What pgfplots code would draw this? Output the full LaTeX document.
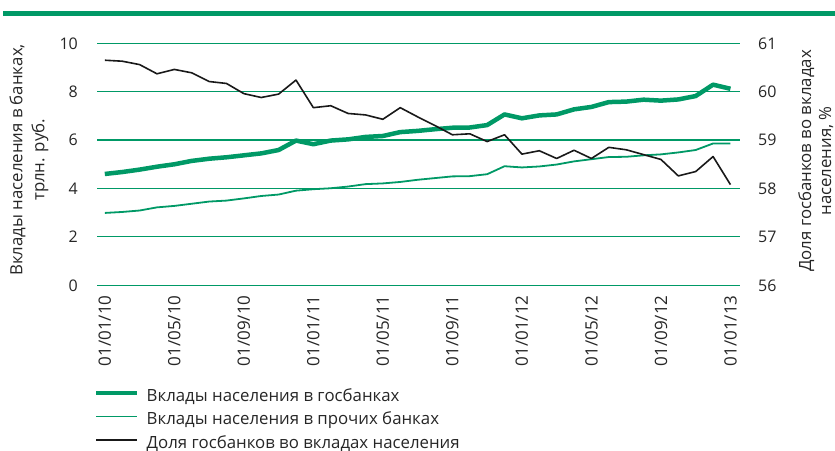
\documentclass[border=0pt]{standalone}
\usepackage{fontspec}
\setmainfont{Open Sans}
\usepackage{pgfplots}
\pgfplotsset{compat=1.18}
\usepackage{pgfplotstable}
\definecolor{sbgreen}{HTML}{009966}
\definecolor{txt}{HTML}{262626}

\pgfplotstableread{
m gov other share
0 4.60 2.99 60.65
1 4.68 3.03 60.63
2 4.78 3.09 60.56
3 4.90 3.22 60.37
4 5.00 3.28 60.46
5 5.14 3.37 60.39
6 5.23 3.46 60.21
7 5.29 3.50 60.17
8 5.37 3.59 59.96
9 5.45 3.69 59.88
10 5.59 3.75 59.95
11 5.98 3.91 60.24
12 5.83 3.97 59.67
13 5.98 4.01 59.71
14 6.03 4.08 59.55
15 6.13 4.18 59.52
16 6.17 4.21 59.43
17 6.33 4.27 59.67
18 6.38 4.36 59.48
19 6.45 4.43 59.30
20 6.51 4.50 59.11
21 6.52 4.51 59.13
22 6.62 4.59 58.97
23 7.06 4.92 59.11
24 6.90 4.87 58.71
25 7.02 4.91 58.78
26 7.06 4.99 58.62
27 7.27 5.12 58.79
28 7.37 5.21 58.62
29 7.57 5.30 58.85
30 7.59 5.31 58.80
31 7.67 5.37 58.70
32 7.63 5.41 58.60
33 7.68 5.49 58.26
34 7.82 5.59 58.35
35 8.29 5.86 58.66
36 8.12 5.86 58.08
}\datatable

\begin{document}
\fontsize{16.8bp}{20bp}\selectfont
\begin{tikzpicture}[x=1bp,y=1bp]
\useasboundingbox (0,0) rectangle (835,451);
\fill[sbgreen] (3,435) rectangle (835,440);
\begin{axis}[
  at={(97bp,165.7bp)}, anchor=south west,
  width=643bp, height=242bp, scale only axis,
  xmin=-0.45, xmax=36.55, ymin=0, ymax=10,
  axis x line*=bottom, axis y line*=left,
  axis line style={draw=none},
  major tick length=0pt,
  ytick={0,2,...,10},
  ymajorgrids, grid style={sbgreen, line width=1.2bp},
  xtick={0,4,...,36},
  xticklabels={01/01/10,01/05/10,01/09/10,01/01/11,01/05/11,01/09/11,01/01/12,01/05/12,01/09/12,01/01/13},
  x tick label style={rotate=90, anchor=east, inner sep=0pt, font=\fontsize{17bp}{20bp}\selectfont, text=txt},
  xticklabel shift=10bp,
  y tick label style={inner sep=0pt, font=\fontsize{16bp}{19bp}\selectfont, text=txt},
  yticklabel shift=19bp,
  /pgf/number format/assume math mode=true,
  ylabel={Вклады населения в банках,\\трлн. руб.},
  ylabel style={at={(axis description cs:-0.1058,0.518)}, anchor=center, align=center, font=\fontsize{16.8bp}{22bp}\selectfont, text=txt},
  clip=false,
]
\addplot[sbgreen, line width=1.8bp, line join=round] table[x=m, y=other] {\datatable};
\addplot[sbgreen, line width=4.5bp, line join=round] table[x=m, y=gov] {\datatable};
\end{axis}
\begin{axis}[
  at={(97bp,165.7bp)}, anchor=south west,
  width=643bp, height=242bp, scale only axis,
  xmin=-0.45, xmax=36.55, ymin=56, ymax=61,
  axis y line*=right, hide x axis,
  axis line style={draw=none},
  major tick length=0pt,
  ytick={56,...,61},
  y tick label style={inner sep=0pt, font=\fontsize{16bp}{19bp}\selectfont, text=txt},
  yticklabel shift=18bp,
  /pgf/number format/assume math mode=true,
  ylabel={Доля госбанков во вкладах\\населения, \%},
  ylabel style={at={(axis description cs:1.118,0.514)}, anchor=center, align=center, rotate=0, font=\fontsize{16.8bp}{20bp}\selectfont, text=txt},
  legend style={at={(axis description cs:0,0)}, anchor=north west, yshift=-105bp, xshift=-3bp, draw=none, fill=none, inner sep=0pt, row sep=9.5bp, font=\fontsize{16.8bp}{20bp}\selectfont, text=txt, nodes={inner sep=0pt, text height=11bp, text depth=3bp}},
  legend cell align=left,
  legend image code/.code={\draw[#1] (0bp,4.5bp) -- (41bp,4.5bp);},
  legend style={/tikz/every odd column/.append style={column sep=7bp}},
  clip=false,
]
\addlegendimage{sbgreen, line width=4.5bp}
\addlegendentry{Вклады населения в госбанках}
\addlegendimage{sbgreen, line width=1.8bp}
\addlegendentry{Вклады населения в прочих банках}
\addplot[black!90, line width=1.6bp, line join=round] table[x=m, y=share] {\datatable};
\addlegendentry{Доля госбанков во вкладах населения}
\end{axis}
\end{tikzpicture}
\end{document}
